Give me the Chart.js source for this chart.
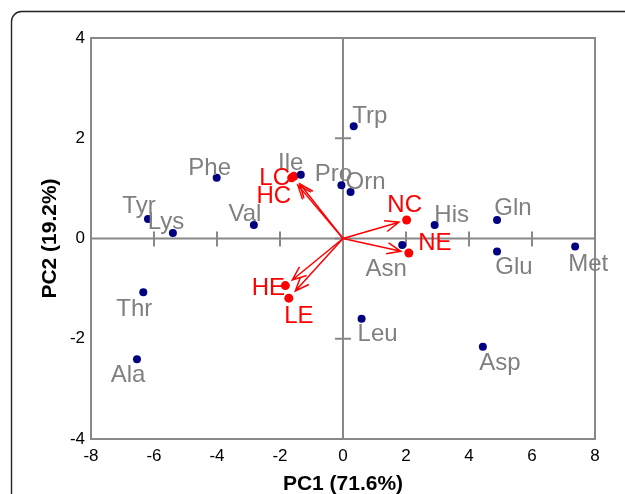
<!DOCTYPE html>
<html>
<head>
<meta charset="utf-8">
<script src="https://cdn.jsdelivr.net/npm/chart.js@4/dist/chart.umd.min.js"></script>
<style>
html,body{margin:0;padding:0;background:#fff;}
#wrap{position:relative;width:625px;height:494px;}
</style>
</head>
<body>
<div id="wrap"><canvas id="c"></canvas></div>
<script>
// ---- data ----
const varNames = ['Tyr','Lys','Phe','Val','Ile','Pro','Orn','Trp','His','Gln','Asn','Glu','Met','Leu','Asp','Thr','Ala'];
const varPC1 = [-6.19,-5.40,-4.01,-2.83,-1.34,-0.05,0.24,0.34,2.91,4.89,1.88,4.89,7.37,0.59,4.44,-6.34,-6.54];
const varPC2 = [0.39,0.11,1.21,0.27,1.27,1.06,0.93,2.24,0.27,0.37,-0.13,-0.26,-0.16,-1.60,-2.16,-1.07,-2.41];
const sampleNames = ['LC','HC','NC','NE','HE','LE'];
const samplePC1 = [-1.63,-1.56,2.02,2.09,-1.83,-1.72];
const samplePC2 = [1.21,1.24,0.37,-0.29,-0.94,-1.19];
const xTicks = [-8,-6,-4,-2,0,2,4,6,8];
const yTicks = [-4,-2,0,2,4];
const xTitle = 'PC1 (71.6%)';
const yTitle = 'PC2 (19.2%)';

// ---- label placement (pixel offsets: centre x, baseline y) ----
const varLabelOffset = {
  Tyr:[-9,-6], Lys:[-7,-4], Phe:[-7,-3], Val:[-9,-4], Ile:[-10,-5], Pro:[-8,-4],
  Orn:[15,-3], Trp:[16,-3], His:[17,-3], Gln:[16,-5], Asn:[-16,31], Glu:[17,22],
  Met:[13,24], Leu:[16,22], Asp:[17,23], Thr:[-9,24], Ala:[-9,23]
};
const sampleLabelOffset = {
  LC:[-17,7], HC:[-20,27], NC:[-2,-8], NE:[26,-3], HE:[-17,9], LE:[10,25]
};
const ARROW_FRAC = 0.88;
const FONT = '"Liberation Sans", Arial, Helvetica, sans-serif';
const GRAY = '#888888';

const varData = varNames.map((n,i)=>({x:varPC1[i], y:varPC2[i], name:n}));
const sampleData = sampleNames.map((n,i)=>({x:samplePC1[i], y:samplePC2[i], name:n}));

const framePlugin = {
  id:'frame',
  beforeDatasetsDraw(chart){
    const ctx = chart.ctx, a = chart.chartArea;
    const xs = chart.scales.x, ys = chart.scales.y;
    ctx.save();
    // outer rounded box
    ctx.strokeStyle = '#222';
    ctx.lineWidth = 1.4;
    ctx.beginPath();
    const r = 10, L = 11.5, T = 11.5;
    ctx.moveTo(L, 520);
    ctx.lineTo(L, T + r);
    ctx.arcTo(L, T, L + r, T, r);
    ctx.lineTo(660, T);
    ctx.stroke();
    // plot frame
    ctx.strokeStyle = GRAY;
    ctx.lineWidth = 2;
    ctx.strokeRect(a.left, a.top, a.right - a.left, a.bottom - a.top);
    // centre axes
    const x0 = xs.getPixelForValue(0), y0 = ys.getPixelForValue(0);
    ctx.beginPath();
    ctx.moveTo(a.left, y0); ctx.lineTo(a.right, y0);
    ctx.moveTo(x0, a.top); ctx.lineTo(x0, a.bottom);
    ctx.stroke();
    ctx.beginPath();
    xTicks.forEach(v=>{ const px = xs.getPixelForValue(v); ctx.moveTo(px, y0-7); ctx.lineTo(px, y0+8); });
    yTicks.forEach(v=>{ const py = ys.getPixelForValue(v); ctx.moveTo(x0-8, py); ctx.lineTo(x0+8, py); });
    ctx.stroke();
    // arrows
    ctx.strokeStyle = '#ff0000';
    ctx.lineWidth = 1.5;
    sampleData.forEach(d=>{
      const tx = xs.getPixelForValue(d.x*ARROW_FRAC), ty = ys.getPixelForValue(d.y*ARROW_FRAC);
      const ang = Math.atan2(ty - y0, tx - x0);
      const len = 15, sp = 22*Math.PI/180;
      ctx.beginPath();
      ctx.moveTo(x0, y0); ctx.lineTo(tx, ty);
      ctx.moveTo(tx - len*Math.cos(ang - sp), ty - len*Math.sin(ang - sp));
      ctx.lineTo(tx, ty);
      ctx.lineTo(tx - len*Math.cos(ang + sp), ty - len*Math.sin(ang + sp));
      ctx.stroke();
    });
    ctx.restore();
  },
  afterDatasetsDraw(chart){
    const ctx = chart.ctx, a = chart.chartArea;
    const xs = chart.scales.x, ys = chart.scales.y;
    ctx.save();
    ctx.textAlign = 'center';
    ctx.textBaseline = 'alphabetic';
    ctx.font = '24px ' + FONT;
    ctx.fillStyle = '#808080';
    varData.forEach(d=>{
      const o = varLabelOffset[d.name] || [0,-6];
      ctx.fillText(d.name, xs.getPixelForValue(d.x)+o[0], ys.getPixelForValue(d.y)+o[1]);
    });
    ctx.fillStyle = '#ff0000';
    sampleData.forEach(d=>{
      const o = sampleLabelOffset[d.name] || [0,-6];
      ctx.fillText(d.name, xs.getPixelForValue(d.x)+o[0], ys.getPixelForValue(d.y)+o[1]);
    });
    // axis titles
    ctx.fillStyle = '#000';
    ctx.font = 'bold 21px ' + FONT;
    ctx.fillText(xTitle, (a.left + a.right)/2, 490);
    ctx.translate(56, (a.top + a.bottom)/2);
    ctx.rotate(-Math.PI/2);
    ctx.fillText(yTitle, 0, 0);
    ctx.restore();
  }
};

new Chart(document.getElementById('c'), {
  type: 'scatter',
  data: {
    datasets: [
      { label:'variables', data: varData, backgroundColor:'#000080', borderColor:'#000080', pointRadius:4, pointHoverRadius:4, borderWidth:0 },
      { label:'samples', data: sampleData, backgroundColor:'#ff0000', borderColor:'#ff0000', pointRadius:4.5, pointHoverRadius:4.5, borderWidth:0 }
    ]
  },
  options: {
    responsive: true,
    maintainAspectRatio: false,
    animation: false,
    events: [],
    layout: { padding: { left: 0, right: 30, top: 38, bottom: 0 } },
    plugins: { legend:{display:false}, tooltip:{enabled:false} },
    scales: {
      x: {
        type:'linear', min:-8, max:8,
        afterFit(s){ s.height = 55; },
        afterBuildTicks(s){ s.ticks = xTicks.map(v=>({value:v})); },
        grid:{ display:false, drawTicks:false },
        border:{ display:false },
        ticks:{ color:'#000', font:{ size:17, family:FONT }, padding:7, maxRotation:0, autoSkip:false }
      },
      y: {
        type:'linear', min:-4, max:4,
        afterFit(s){ s.width = 91; },
        afterBuildTicks(s){ s.ticks = yTicks.map(v=>({value:v})); },
        grid:{ display:false, drawTicks:false },
        border:{ display:false },
        ticks:{ color:'#000', font:{ size:17, family:FONT }, padding:6, autoSkip:false }
      }
    }
  },
  plugins: [framePlugin]
});
</script>
</body>
</html>
